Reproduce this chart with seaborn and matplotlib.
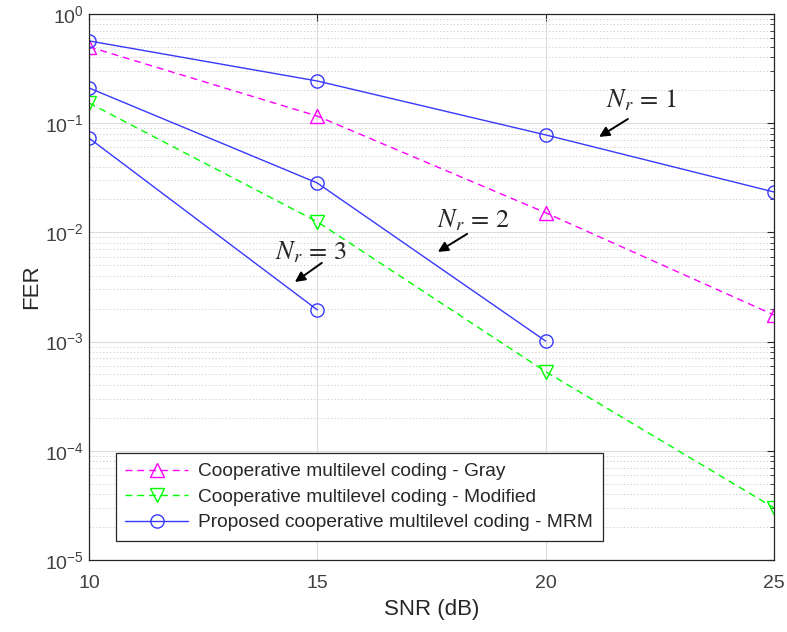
import numpy as np
import pandas as pd
import matplotlib
matplotlib.use("Agg")
import matplotlib.pyplot as plt
import seaborn as sns
from matplotlib.ticker import LogLocator, FixedLocator, NullFormatter

snr = [10, 15, 20, 25]
fer_gray = [0.50, 0.116, 0.0151, 0.00175]
fer_modified = [0.153, 0.0125, 0.00053, 3.0e-5]
snr_nr1 = [10, 15, 20, 25]
fer_mrm_nr1 = [0.566, 0.243, 0.078, 0.0234]
snr_nr2 = [10, 15, 20]
fer_mrm_nr2 = [0.21, 0.0283, 0.00101]
snr_nr3 = [10, 15]
fer_mrm_nr3 = [0.073, 0.00195]

labels = ["Cooperative multilevel coding - Gray",
          "Cooperative multilevel coding - Modified",
          "Proposed cooperative multilevel coding - MRM"]
nr_labels = [r'$N_r\,=\,1$', r'$N_r\,=\,2$', r'$N_r\,=\,3$']

sns.set_theme(style="white")
plt.rcParams['font.family'] = ['Liberation Sans', 'DejaVu Sans']
plt.rcParams['mathtext.fontset'] = 'stix'

fig = plt.figure(figsize=(7.87, 6.32), dpi=100)
ax = fig.add_axes([0.113, 0.114, 0.8705, 0.864])

magenta = '#ff00ff'
green = '#00ff00'
blue = '#3838ff'
dash = (5, 3.5)

sns.lineplot(x=snr, y=fer_gray, ax=ax, color=magenta, marker='^', markersize=9.5,
             markerfacecolor='none', markeredgecolor=magenta, markeredgewidth=1.0,
             dashes=False, linestyle=(0, dash), lw=1.0, label=labels[0])
sns.lineplot(x=snr, y=fer_modified, ax=ax, color=green, marker='v', markersize=9.5,
             markerfacecolor='none', markeredgecolor=green, markeredgewidth=1.0,
             dashes=False, linestyle=(0, dash), lw=1.0, label=labels[1])
for i, (xs, ys) in enumerate([(snr_nr1, fer_mrm_nr1), (snr_nr2, fer_mrm_nr2), (snr_nr3, fer_mrm_nr3)]):
    sns.lineplot(x=xs, y=ys, ax=ax, color=blue, marker='o', markersize=9.5,
                 markerfacecolor='none', markeredgecolor=blue, markeredgewidth=1.0,
                 lw=1.0, label=labels[2] if i == 0 else None)

ax.set_yscale('log')
ax.set_xlim(10, 25)
ax.set_ylim(1e-5, 1)
ax.xaxis.set_major_locator(FixedLocator([10, 15, 20, 25]))
ax.yaxis.set_major_locator(LogLocator(base=10, numticks=10))
ax.yaxis.set_minor_locator(LogLocator(base=10, subs=np.arange(2, 10), numticks=20))
ax.yaxis.set_minor_formatter(NullFormatter())

ax.grid(True, which='major', color='#dcdcdc', lw=0.8, ls='-')
ax.grid(True, which='minor', axis='y', color='#d4d4d4', lw=0.7, ls=(0, (1.5, 2)))
ax.set_axisbelow(True)

ax.tick_params(which='both', direction='in', top=True, right=True, colors='#262626',
               labelsize=14, labelcolor='#404040')
ax.tick_params(which='major', length=5, width=0.8)
ax.tick_params(which='minor', length=3, width=0.6)
ax.tick_params(axis='x', pad=11)
for s in ax.spines.values():
    s.set_color('#262626')
    s.set_linewidth(0.9)

ax.set_xlabel('SNR (dB)', fontsize=16, color='#262626', labelpad=5)
ax.set_ylabel('FER', fontsize=16, color='#262626', labelpad=2)

leg = ax.legend(loc='lower left', bbox_to_anchor=(0.039, 0.035), fontsize=13.8,
                frameon=True, fancybox=False, edgecolor='#262626', framealpha=1,
                handlelength=3.3, borderpad=0.5, labelspacing=0.42, borderaxespad=0,
                handletextpad=0.5)
leg.get_frame().set_linewidth(0.9)

akw = dict(arrowstyle='-|>', color='black', lw=1.4, mutation_scale=15,
           shrinkA=0, shrinkB=0)
# arrows (tail -> head) and text positions, data coordinates
arrow_heads = [(21.17, 0.0748), (17.64, 0.00662), (14.51, 0.00351)]
arrow_tails = [(21.80, 0.109), (18.28, 0.00967), (15.10, 0.00525)]
text_pos = [(22.09, 0.163), (18.43, 0.0130), (14.86, 0.00662)]
for lab, h, t, p in zip(nr_labels, arrow_heads, arrow_tails, text_pos):
    ax.annotate('', xy=h, xytext=t, arrowprops=akw)
    ax.text(p[0], p[1], lab, fontsize=19, ha='center', va='center')

fig.savefig('out.png', dpi=100)
